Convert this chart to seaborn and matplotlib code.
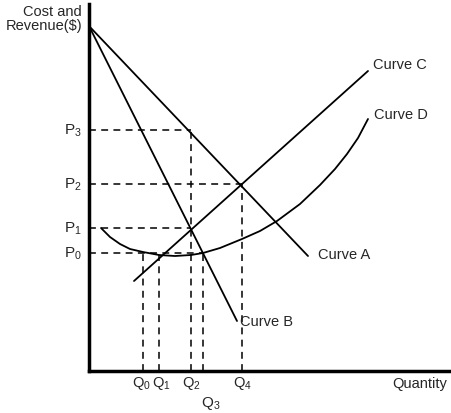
import numpy as np
import pandas as pd
import matplotlib
matplotlib.use("Agg")
import matplotlib.pyplot as plt
import seaborn as sns

# curves (quantity, cost/revenue)
curve_a_x = [0, 219]
curve_a_y = [345, 115]
curve_b_x = [0, 148]
curve_b_y = [345, 50]
curve_c_x = [45, 279]
curve_c_y = [90, 300]
curve_d_x = [12, 21, 31, 41, 54, 70, 86, 102, 114, 131, 153, 171, 188, 211, 231, 246, 258, 269, 279]
curve_d_y = [143, 134, 127, 122, 119, 116, 115, 116, 118, 123, 132, 140, 150, 167, 186, 202, 217, 233, 252]

p_names = ["P_0", "P_1", "P_2", "P_3"]
p_vals = [118, 143, 187, 241]
q_names = ["Q_0", "Q_1", "Q_2", "Q_3", "Q_4"]
q_vals = [54, 70, 102, 114, 153]
q_tops = [119, 116, 241, 118, 187]
p_ends = [114, 102, 153, 102]

sns.set_style("white")
plt.rcParams["font.family"] = ["Liberation Sans", "DejaVu Sans"]
plt.rcParams["mathtext.fontset"] = "custom"
plt.rcParams["mathtext.rm"] = "Liberation Sans"
plt.rcParams["mathtext.it"] = "Liberation Sans"

fig = plt.figure(figsize=(4.52, 4.14), dpi=100)
ax = fig.add_axes([89 / 452, 42 / 414, 363 / 452, 367 / 414])

for xs, ys in [(curve_a_x, curve_a_y), (curve_b_x, curve_b_y),
               (curve_c_x, curve_c_y), (curve_d_x, curve_d_y)]:
    d = pd.DataFrame({"q": xs, "c": ys})
    sns.lineplot(data=d, x="q", y="c", ax=ax, color="k", lw=1.3, sort=False)

dash = (0, (4.5, 3.5))
for v, e in zip(p_vals, p_ends):
    ax.plot([0, e], [v, v], color="k", lw=1.1, ls=dash)
for v, t in zip(q_vals, q_tops):
    ax.plot([v, v], [0, t], color="k", lw=1.1, ls=dash)

ax.set_xlim(0, 363)
ax.set_ylim(0, 367)
ax.set_xticks([])
ax.set_yticks([])
ax.set_xlabel("")
ax.set_ylabel("")
for s in ["top", "right"]:
    ax.spines[s].set_visible(False)
for s in ["left", "bottom"]:
    ax.spines[s].set_linewidth(2.5)
    ax.spines[s].set_color("k")

fs = 10.5
q_shift = {"Q_0": -1.5, "Q_1": 2.5}
for n, v in zip(p_names, p_vals):
    ax.text(-7, v, "$\\mathrm{" + n + "}$", ha="right", va="center", fontsize=fs + 0.5)
for n, v in zip(q_names, q_vals):
    if n == "Q_3":
        ax.text(v + 8, -32, "$\\mathrm{" + n + "}$", ha="center", va="center", fontsize=fs + 0.5)
        ax.annotate("", xy=(v + 4, -19), xytext=(v, 0),
                    arrowprops=dict(arrowstyle="-", color="k", lw=1,
                                    connectionstyle="arc3,rad=-0.4"))
    else:
        ax.text(v + q_shift.get(n, 0), -12, "$\\mathrm{" + n + "}$", ha="center",
                va="center", fontsize=fs)

ax.text(-7, 353, "Cost and\nRevenue($)", ha="right", va="center", fontsize=fs,
        linespacing=1.05)
ax.text(331, -12, "Quantity", ha="center", va="center", fontsize=fs)
ax.text(284, 307, "Curve C", ha="left", va="center", fontsize=fs)
ax.text(285, 257, "Curve D", ha="left", va="center", fontsize=fs)
ax.text(229, 117, "Curve A", ha="left", va="center", fontsize=fs)
ax.text(151, 50, "Curve B", ha="left", va="center", fontsize=fs)

plt.savefig("out.png", dpi=100)
